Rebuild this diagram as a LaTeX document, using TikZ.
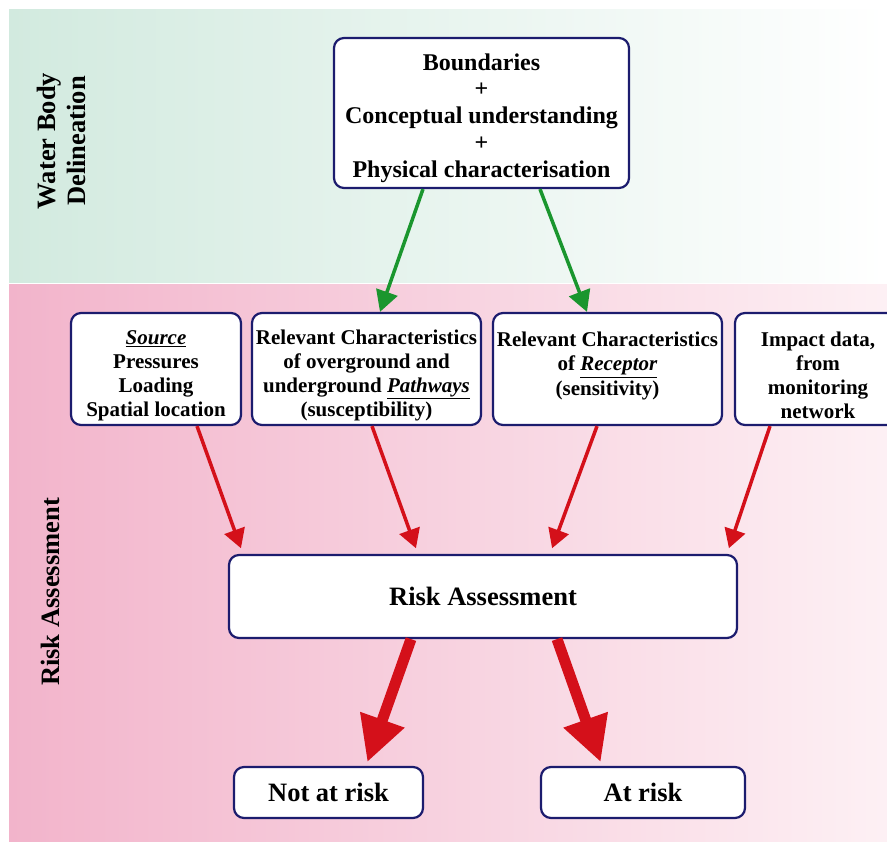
\documentclass[tikz,border=0pt]{standalone}
\usepackage{fontspec}
\setmainfont{Liberation Serif}
\usetikzlibrary{arrows.meta,positioning}
\definecolor{boxblue}{RGB}{28,28,110}
\definecolor{arrowred}{RGB}{212,16,26}
\definecolor{arrowgreen}{RGB}{26,150,46}
\definecolor{wbgreen}{RGB}{210,234,223}
\definecolor{rapink}{RGB}{242,180,203}
\definecolor{rapinkr}{RGB}{253,240,244}
\newcommand{\padtop}[1]{\rule{0pt}{#1}}

\begin{document}
\begin{tikzpicture}[x=1pt,y=-1pt]
\tikzset{box/.style={draw=boxblue,line width=2.2pt,fill=white,rounded corners=10pt,align=center,inner sep=0pt}}
\tikzset{midbox/.style={box,minimum height=112pt,font=\bfseries\fontsize{21}{24}\selectfont}}
\tikzset{bigtext/.style={font=\bfseries\fontsize{26.5}{30}\selectfont}}
\tikzset{green arrow/.style={draw=arrowgreen,line width=3.5pt,-{Triangle[length=21pt,width=22pt]}}}
\tikzset{red arrow/.style={draw=arrowred,line width=3.5pt,shorten >=6pt,-{Triangle[length=19pt,width=21pt]}}}
\tikzset{fat arrow/.style={draw=arrowred,line width=11pt,shorten >=4pt,-{Triangle[length=45pt,width=44pt]}}}
\useasboundingbox (0,0) rectangle (887,842);
% the two bands
\shade[left color=wbgreen,right color=white] (9,10) rectangle (887,283);
\shade[left color=rapink,right color=rapinkr] (9,285) rectangle (887,842);
\node[bigtext,rotate=90,align=center] (wbdlabel) at (61,141) {Water Body\\Delineation};
\node[bigtext,rotate=90] (ralabel) at (50,592) {Risk Assessment};
% boxes
\node[box,minimum width=295pt,minimum height=150pt,font=\bfseries\fontsize{24}{26.7}\selectfont] (wbd) at (481.5,113)
  {\padtop{26.5pt}Boundaries\\+\\Conceptual understanding\\+\\Physical characterisation};
\node[midbox,minimum width=170pt] (src) at (156,369)
  {\padtop{28pt}\underline{\textit{Source}}\\Pressures\\Loading\\Spatial location};
\node[midbox,minimum width=229pt] (path) at (366.5,369)
  {\padtop{28pt}Relevant Characteristics\\of overground and\\underground \underline{\textit{Pathways}}\\(susceptibility)};
\node[midbox,minimum width=229pt] (rec) at (607.5,369)
  {\padtop{28pt}Relevant Characteristics\\of \underline{\textit{Receptor}}\\(sensitivity)\\~};
\node[midbox,minimum width=166pt] (imp) at (818,369)
  {\padtop{28pt}Impact data,\\from\\monitoring\\network};
\node[box,bigtext,minimum width=508pt,minimum height=83pt] (risk) at (483,596.5) {Risk Assessment};
\node[box,bigtext,minimum width=189pt,minimum height=51pt] (notrisk) at (328.5,792.5) {Not at risk};
\node[box,bigtext,minimum width=204pt,minimum height=51pt] (atrisk) at (643,792.5) {At risk};
% arrows
\draw[green arrow] ([xshift=-58.5pt]wbd.south) -- ([xshift=13.5pt]path.north);
\draw[green arrow] ([xshift=58.5pt]wbd.south) -- ([xshift=-20.5pt]rec.north);
\draw[red arrow] ([xshift=41pt]src.south) -- ([xshift=-240pt]risk.north);
\draw[red arrow] ([xshift=5.5pt]path.south) -- ([xshift=-65pt]risk.north);
\draw[red arrow] ([xshift=-10.5pt]rec.south) -- ([xshift=67pt]risk.north);
\draw[red arrow] ([xshift=-48pt]imp.south) -- ([xshift=244pt]risk.north);
\draw[fat arrow] ([xshift=-72pt]risk.south) -- ([xshift=37.5pt]notrisk.north);
\draw[fat arrow] ([xshift=74pt]risk.south) -- ([xshift=-41pt]atrisk.north);
\end{tikzpicture}
\end{document}
